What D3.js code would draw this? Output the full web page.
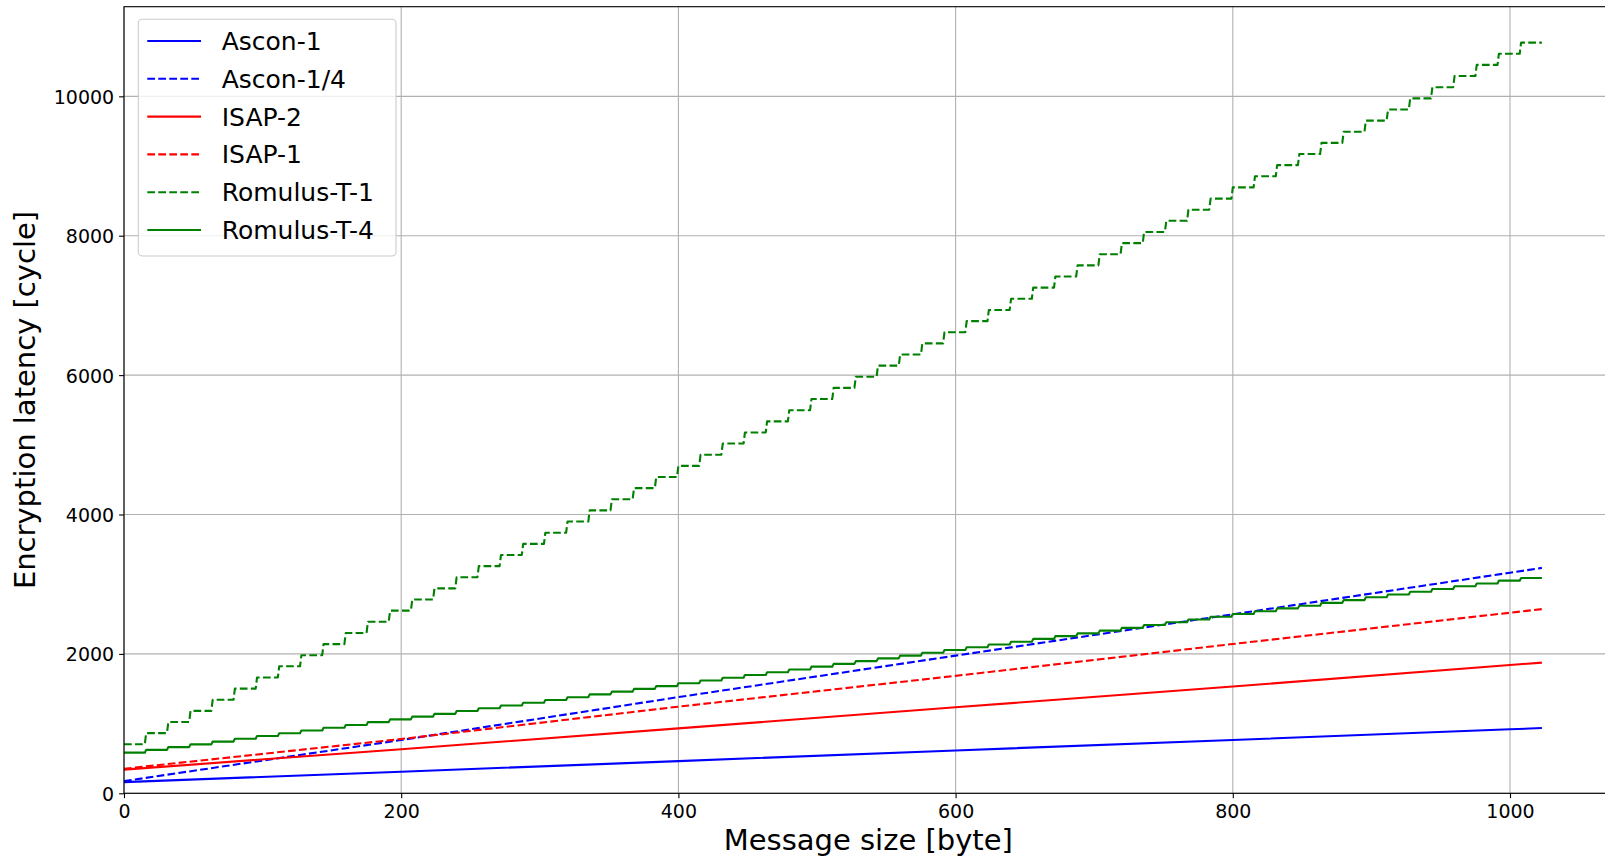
<!DOCTYPE html>
<html>
<head>
<meta charset="utf-8">
<script src="https://cdn.jsdelivr.net/npm/d3@7"></script>
<style>
  html, body { margin: 0; padding: 0; background: #ffffff; }
  svg { display: block; font-family: "DejaVu Sans", sans-serif; }
</style>
</head>
<body>
<svg id="chart" width="1605" height="858"></svg>
<script>
// ---------------- data ----------------
const seriesNames = ["Ascon-1", "Ascon-1/4", "ISAP-2", "ISAP-1", "Romulus-T-1", "Romulus-T-4"];

// sampled message sizes (bytes) for the smooth series
const sampleX = [0, 200, 400, 600, 800, 1000, 1023];
const ascon1   = [160, 310, 462, 615, 765, 918, 936];
const ascon14  = [175, 765, 1380, 1975, 2568, 3165, 3234];
const isap2    = [340, 632, 932, 1234, 1532, 1841, 1875];
const isap1    = [352, 779, 1243, 1685, 2142, 2591, 2643];

// Romulus: one value per 16-byte block (block k covers bytes 16k .. 16k+15)
const blockSize = 16;
const romulusT1 = [703, 863, 1023, 1182, 1342, 1502, 1662, 1822, 1981, 2141, 2301, 2461, 2621, 2780, 2940, 3100,
  3260, 3420, 3579, 3739, 3899, 4059, 4219, 4378, 4538, 4698, 4858, 5018, 5177, 5337, 5497, 5657,
  5817, 5976, 6136, 6296, 6456, 6616, 6775, 6935, 7095, 7255, 7415, 7574, 7734, 7894, 8054, 8214,
  8373, 8533, 8693, 8853, 9013, 9172, 9332, 9492, 9652, 9812, 9971, 10131, 10291, 10451, 10611, 10770];
const romulusT4 = [583, 623, 663, 702, 742, 782, 822, 862, 901, 941, 981, 1021, 1061, 1100, 1140, 1180,
  1220, 1260, 1299, 1339, 1379, 1419, 1459, 1498, 1538, 1578, 1618, 1658, 1697, 1737, 1777, 1817,
  1857, 1896, 1936, 1976, 2016, 2056, 2095, 2135, 2175, 2215, 2255, 2294, 2334, 2374, 2414, 2454,
  2493, 2533, 2573, 2613, 2653, 2692, 2732, 2772, 2812, 2852, 2891, 2931, 2971, 3011, 3051, 3090];

const xTicks = [0, 200, 400, 600, 800, 1000];
const yTicks = [0, 2000, 4000, 6000, 8000, 10000];
const xLabel = "Message size [byte]";
const yLabel = "Encryption latency [cycle]";

// ---------------- layout ----------------
const plotLeft = 124, plotTop = 6.7, plotBottom = 793.3;
const xMax = 1074;
const pxPerByte = 1.386;
const plotRight = plotLeft + xMax * pxPerByte;
const yMax = 11286;

const svg = d3.select("#chart");
const x = d3.scaleLinear().domain([0, xMax]).range([plotLeft, plotRight]);
const y = d3.scaleLinear().domain([0, yMax]).range([plotBottom, plotTop]);

svg.append("defs").append("clipPath").attr("id", "clip")
  .append("rect").attr("x", plotLeft).attr("y", plotTop)
  .attr("width", plotRight - plotLeft).attr("height", plotBottom - plotTop);

// grid
const grid = svg.append("g");
grid.selectAll(".gx").data(xTicks).join("line")
  .attr("x1", d => x(d)).attr("x2", d => x(d))
  .attr("y1", plotTop).attr("y2", plotBottom)
  .attr("stroke", "#b0b0b0").attr("stroke-width", 1.1);
grid.selectAll(".gy").data(yTicks).join("line")
  .attr("x1", plotLeft).attr("x2", plotRight)
  .attr("y1", d => y(d)).attr("y2", d => y(d))
  .attr("stroke", "#b0b0b0").attr("stroke-width", 1.1);

// series
function sampled(vals) { return sampleX.map((xx, i) => [xx, vals[i]]); }
function stepped(blocks) {
  const pts = [];
  blocks.forEach((v, k) => { pts.push([k * blockSize, v]); pts.push([k * blockSize + blockSize - 1, v]); });
  return pts;
}
const series = [
  { name: seriesNames[0], pts: sampled(ascon1),  color: "#0000ff", dash: null },
  { name: seriesNames[1], pts: sampled(ascon14), color: "#0000ff", dash: "7.7,3.3" },
  { name: seriesNames[2], pts: sampled(isap2),   color: "#ff0000", dash: null },
  { name: seriesNames[3], pts: sampled(isap1),   color: "#ff0000", dash: "7.7,3.3" },
  { name: seriesNames[4], pts: stepped(romulusT1), color: "#008000", dash: "7.7,3.3" },
  { name: seriesNames[5], pts: stepped(romulusT4), color: "#008000", dash: null }
];

const line = d3.line().x(d => x(d[0])).y(d => y(d[1]));
const lines = svg.append("g").attr("clip-path", "url(#clip)");
series.forEach(s => {
  lines.append("path")
    .attr("d", line(s.pts))
    .attr("fill", "none")
    .attr("stroke", s.color)
    .attr("stroke-width", 2.1)
    .attr("stroke-dasharray", s.dash)
    .attr("stroke-linejoin", "round");
});

// axes
const xAxis = d3.axisBottom(x).tickValues(xTicks).tickSize(4.9).tickPadding(4.9).tickFormat(d3.format("d"));
const yAxis = d3.axisLeft(y).tickValues(yTicks).tickSize(4.9).tickPadding(4.9).tickFormat(d3.format("d"));
const gx = svg.append("g").attr("transform", `translate(0,${plotBottom})`).call(xAxis);
const gy = svg.append("g").attr("transform", `translate(${plotLeft},0)`).call(yAxis);
[gx, gy].forEach(g => {
  g.select(".domain").remove();
  g.selectAll(".tick line").attr("stroke", "#000").attr("stroke-width", 1.1);
  g.selectAll(".tick text").attr("fill", "#000").attr("font-size", 19)
    .attr("font-family", "DejaVu Sans");
});
gx.selectAll(".tick text").attr("dy", null).attr("y", 25);
gy.selectAll(".tick text").attr("dy", null).attr("y", 7);

// spines
const spines = svg.append("g").attr("stroke", "#000").attr("stroke-width", 1.1).attr("fill", "none");
spines.append("rect").attr("x", plotLeft).attr("y", plotTop)
  .attr("width", plotRight - plotLeft).attr("height", plotBottom - plotTop);

// axis labels
svg.append("text").attr("x", (plotLeft + plotRight) / 2).attr("y", 850)
  .attr("text-anchor", "middle").attr("font-size", 29).attr("fill", "#000").text(xLabel);
svg.append("text").attr("transform", `translate(35,${(plotTop + plotBottom) / 2}) rotate(-90)`)
  .attr("text-anchor", "middle").attr("font-size", 29).attr("fill", "#000").text(yLabel);

// legend
const lg = svg.append("g");
lg.append("rect").attr("x", 138.3).attr("y", 19.3).attr("width", 257.7).attr("height", 236.7)
  .attr("rx", 4).attr("fill", "#ffffff").attr("fill-opacity", 0.8)
  .attr("stroke", "#cccccc").attr("stroke-width", 1.1);
series.forEach((s, i) => {
  const cy = 41 + i * 37.8;
  lg.append("line").attr("x1", 147.3).attr("x2", 201).attr("y1", cy).attr("y2", cy)
    .attr("stroke", s.color).attr("stroke-width", 2.1).attr("stroke-dasharray", s.dash);
  lg.append("text").attr("x", 221.7).attr("y", cy + 9).attr("font-size", 25).attr("fill", "#000").text(s.name);
});
</script>
</body>
</html>
